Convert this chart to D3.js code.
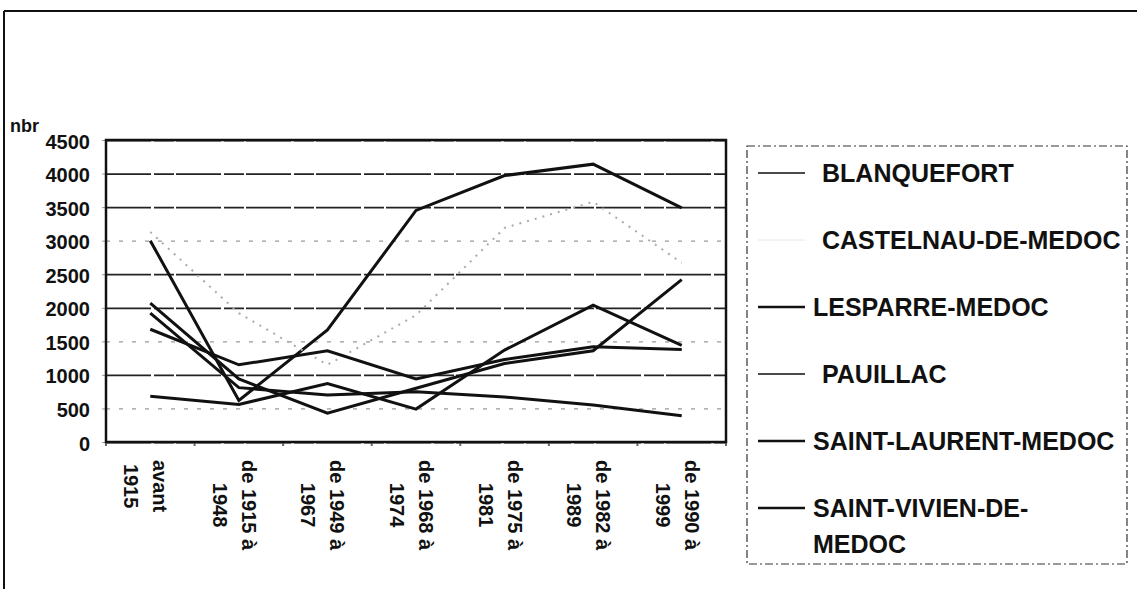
<!DOCTYPE html>
<html>
<head>
<meta charset="utf-8">
<script src="https://cdn.jsdelivr.net/npm/d3@7/dist/d3.min.js"></script>
<style>
  body { margin: 0; background: #fff; }
  svg { display: block; font-family: "Liberation Sans", Arial, sans-serif; font-weight: bold; }
</style>
</head>
<body>
<svg id="chart" width="1137" height="589"></svg>
<script>

// data
var categories = ["avant 1915", "de 1915 à 1948", "de 1949 à 1967", "de 1968 à 1974",
                  "de 1975 à 1981", "de 1982 à 1989", "de 1990 à 1999"];
var categoryLines = [["avant", "1915"], ["de 1915 à", "1948"], ["de 1949 à", "1967"], ["de 1968 à", "1974"],
                     ["de 1975 à", "1981"], ["de 1982 à", "1989"], ["de 1990 à", "1999"]];

var blanquefort  = [3000, 620, 1670, 3450, 3970, 4140, 3490];
var castelnau    = [3130, 1920, 1150, 1890, 3190, 3580, 2670];
var lesparre     = [2070, 940, 430, 800, 1170, 1360, 2420];
var pauillac     = [1680, 1150, 1360, 940, 1230, 1420, 1380];
var saintLaurent = [680, 560, 870, 490, 1370, 2040, 1440];
var saintVivien  = [1920, 810, 700, 750, 670, 550, 390];

var seriesNames = ["BLANQUEFORT", "CASTELNAU-DE-MEDOC", "LESPARRE-MEDOC", "PAUILLAC",
                   "SAINT-LAURENT-MEDOC", "SAINT-VIVIEN-DE-MEDOC"];
var legendLines = [["BLANQUEFORT"], ["CASTELNAU-DE-MEDOC"], ["LESPARRE-MEDOC"], ["PAUILLAC"],
                   ["SAINT-LAURENT-MEDOC"], ["SAINT-VIVIEN-DE-", "MEDOC"]];
var yTicks = [0, 500, 1000, 1500, 2000, 2500, 3000, 3500, 4000, 4500];
var lightGrid = [500, 1500, 3000];   // gridlines that came out faint in the scan

var series = [
    { name: seriesNames[0], values: blanquefort,  stroke: "#111", legendWidth: 1.6, textX: 822 },
    { name: seriesNames[1], values: castelnau,    stroke: "#aaa", dashed: true, legendWidth: 0, textX: 822 },
    { name: seriesNames[2], values: lesparre,     stroke: "#111", legendWidth: 2.6, textX: 813 },
    { name: seriesNames[3], values: pauillac,     stroke: "#111", legendWidth: 1.6, textX: 822 },
    { name: seriesNames[4], values: saintLaurent, stroke: "#111", legendWidth: 2.6, textX: 813 },
    { name: seriesNames[5], values: saintVivien,  stroke: "#111", legendWidth: 2.6, textX: 813 }
];

var svg = d3.select("#chart");

var plot = { left: 106, right: 726, top: 140, bottom: 442 };

var x = d3.scaleBand()
    .domain(categories)
    .range([plot.left, plot.right]);

var y = d3.scaleLinear()
    .domain([0, 4500])
    .range([plot.bottom, plot.top]);

function cx(c) { return x(c) + x.bandwidth() / 2; }

// outer frame of the scanned figure
svg.append("line").attr("x1", 4).attr("x2", 1137).attr("y1", 11).attr("y2", 11)
    .attr("stroke", "#111").attr("stroke-width", 2);
svg.append("line").attr("x1", 4).attr("x2", 4).attr("y1", 11).attr("y2", 589)
    .attr("stroke", "#111").attr("stroke-width", 2);

// gridlines
var grid = svg.append("g")
    .attr("transform", "translate(" + plot.left + ",0)")
    .call(d3.axisLeft(y).tickValues(yTicks).tickSize(-(plot.right - plot.left)).tickFormat(""));
grid.select(".domain").remove();
grid.selectAll(".tick line")
    .attr("stroke", function (d) { return lightGrid.indexOf(d) >= 0 ? "#9a9a9a" : "#222"; })
    .attr("stroke-width", function (d) { return lightGrid.indexOf(d) >= 0 ? 1.2 : 1.8; })
    .attr("stroke-dasharray", function (d) { return lightGrid.indexOf(d) >= 0 ? "4,9" : "45,3,20,2"; });

// y tick labels
var yAxis = svg.append("g")
    .attr("transform", "translate(" + plot.left + ",0)")
    .call(d3.axisLeft(y).tickValues(yTicks).tickFormat(d3.format("d")).tickSize(4).tickPadding(12));
yAxis.select(".domain").remove();
yAxis.selectAll(".tick line").attr("stroke", "#999");
yAxis.selectAll(".tick text")
    .attr("font-size", 20)
    .attr("font-weight", "bold")
    .attr("font-family", "Liberation Sans, Arial, sans-serif")
    .attr("fill", "#111")
    .attr("dy", "0.4em");

svg.append("text")
    .attr("x", 10).attr("y", 132)
    .attr("font-size", 18)
    .attr("fill", "#111")
    .text("nbr");

// x tick marks between categories
svg.append("g").selectAll("line")
    .data(categories.concat(["end"]))
    .enter().append("line")
    .attr("x1", function (d, i) { return plot.left + i * x.bandwidth(); })
    .attr("x2", function (d, i) { return plot.left + i * x.bandwidth(); })
    .attr("y1", plot.bottom).attr("y2", plot.bottom + 4)
    .attr("stroke", "#666").attr("stroke-width", 2);

// rotated category labels
var labels = svg.append("g").selectAll("g")
    .data(categories)
    .enter().append("g")
    .attr("transform", function (d) { return "translate(" + cx(d) + ",460) rotate(90)"; });

labels.each(function (d, i) {
    var g = d3.select(this);
    var texts = g.selectAll("text")
        .data(categoryLines[i])
        .enter().append("text")
        .attr("font-size", 20)
        .attr("fill", "#111")
        .attr("text-anchor", "middle")
        .attr("dominant-baseline", "central")
        .attr("y", function (t, j) { return j === 0 ? -10 : 19; })
        .text(function (t) { return t; });
    var maxLen = 0;
    texts.each(function () { maxLen = Math.max(maxLen, this.getComputedTextLength()); });
    texts.attr("x", maxLen / 2);
});

// series lines
var line = d3.line()
    .x(function (d, i) { return cx(categories[i]); })
    .y(function (d) { return y(d); });

svg.append("g").selectAll("path")
    .data(series)
    .enter().append("path")
    .attr("d", function (s) { return line(s.values); })
    .attr("fill", "none")
    .attr("stroke", function (s) { return s.stroke; })
    .attr("stroke-width", function (s) { return s.dashed ? 2 : 3; })
    .attr("stroke-dasharray", function (s) { return s.dashed ? "2,6" : null; })
    .attr("stroke-linejoin", "miter");

// plot border
svg.append("rect")
    .attr("x", plot.left).attr("y", plot.top)
    .attr("width", plot.right - plot.left).attr("height", plot.bottom - plot.top)
    .attr("fill", "none").attr("stroke", "#111").attr("stroke-width", 2.5);

// legend
svg.append("rect")
    .attr("x", 747).attr("y", 146).attr("width", 380).attr("height", 418)
    .attr("fill", "none").attr("stroke", "#333").attr("stroke-width", 1.2)
    .attr("stroke-dasharray", "8,3,2,3");

var legend = svg.append("g").selectAll("g")
    .data(series)
    .enter().append("g")
    .attr("transform", function (d, i) { return "translate(0," + (173 + i * 67) + ")"; });

legend.append("line")
    .attr("x1", 758).attr("x2", 805)
    .attr("stroke", function (s) { return s.dashed ? "#e6e6e6" : "#111"; })
    .attr("stroke-width", function (s) { return s.legendWidth || 1; });

legend.each(function (s, i) {
    d3.select(this).selectAll("text")
        .data(legendLines[i])
        .enter().append("text")
        .attr("x", s.textX)
        .attr("y", function (t, j) { return j * 36; })
        .attr("dominant-baseline", "central")
        .attr("font-size", 25)
        .attr("fill", "#111")
        .text(function (t) { return t; });
});

</script>
</body>
</html>
